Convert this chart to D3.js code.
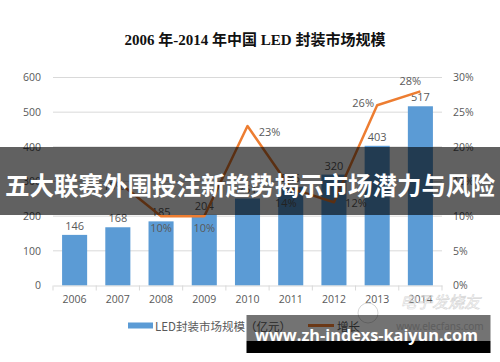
<!DOCTYPE html>
<html><head><meta charset="utf-8">
<script src="https://cdn.jsdelivr.net/npm/d3@7"></script>
<style>
html,body{margin:0;padding:0;background:#fff;}
svg{display:block;}
</style></head>
<body>
<svg id="c" width="500" height="362"></svg>
<script>
const years = ["2006","2007","2008","2009","2010","2011","2012","2013","2014"];
const marketSize = [146,168,185,204,251,285,320,403,517];
const growth = [null,15,10,10,23,14,12,26,28];
const leftTicks = [0,100,200,300,400,500,600];
const rightTicks = [0,5,10,15,20,25,30];
// label offsets (style, not data)
const growthLabelOffset = [null,[-4,4],[0,11],[0,11],[22,5],[-5,14],[22,0],[-14,-3],[-10,-11]];

const svg = d3.select("#c");
const m = {l:53, r:442, t:77.5, b:285.5};
const x = d3.scaleBand().domain(years).range([m.l,m.r]).paddingInner(0.42).paddingOuter(0.21);
const y = d3.scaleLinear().domain([0,600]).range([m.b,m.t]);
const y2 = d3.scaleLinear().domain([0,30]).range([m.b,m.t]);
const axisFont = "'Open Sans','Noto Sans',sans-serif";
const grey = "#595959";

// title
svg.append("text").attr("x",255).attr("y",45).attr("text-anchor","middle")
  .attr("font-family","'Liberation Serif','Noto Sans CJK SC',serif").attr("font-weight","bold")
  .attr("font-size",15).attr("fill","#111")
  .text("2006 年-2014 年中国 LED  封装市场规模");

// gridlines
svg.append("g").selectAll("line").data(leftTicks.slice(1)).join("line")
  .attr("x1",m.l).attr("x2",m.r).attr("y1",d=>y(d)).attr("y2",d=>y(d))
  .attr("stroke","#d9d9d9").attr("stroke-width",1);

// left axis
const gl = svg.append("g").attr("transform",`translate(${m.l},0)`)
  .call(d3.axisLeft(y).tickValues(leftTicks).tickSize(0).tickPadding(12));
gl.select(".domain").remove();
gl.selectAll("text").attr("font-family",axisFont).attr("font-size",10.5).attr("fill",grey);

// right axis
const gr = svg.append("g").attr("transform",`translate(${m.r},0)`)
  .call(d3.axisRight(y2).tickValues(rightTicks).tickSize(0).tickPadding(11).tickFormat(d=>d+"%"));
gr.select(".domain").remove();
gr.selectAll("text").attr("font-family",axisFont).attr("font-size",10.5).attr("fill",grey);

// bars
svg.append("g").selectAll("rect").data(marketSize).join("rect")
  .attr("x",(d,i)=>x(years[i])).attr("width",x.bandwidth())
  .attr("y",d=>y(d)).attr("height",d=>y(0)-y(d)).attr("fill","#5b9bd5");

// x axis
const step = x.step();
const gx = svg.append("g").attr("transform",`translate(0,${m.b})`)
  .call(d3.axisBottom(x).tickSize(0).tickPadding(10));
gx.select(".domain").attr("stroke","#d9d9d9");
gx.selectAll("text").attr("font-family",axisFont).attr("font-size",10.5).attr("fill",grey);
svg.append("g").selectAll("line").data(d3.range(years.length+1)).join("line")
  .attr("x1",i=>m.l+i*step).attr("x2",i=>m.l+i*step).attr("y1",m.b).attr("y2",m.b+5)
  .attr("stroke","#d9d9d9");

// bar labels
svg.append("g").selectAll("text").data(marketSize).join("text")
  .attr("x",(d,i)=>x(years[i])+x.bandwidth()/2).attr("y",d=>y(d)-5)
  .attr("text-anchor","middle").attr("font-family",axisFont).attr("font-size",11).attr("fill",grey)
  .text(d=>d);

// line
const pts = growth.map((g,i)=>({g,i})).filter(d=>d.g!==null);
const cx = i=>x(years[i])+x.bandwidth()/2;
svg.append("path").datum(pts)
  .attr("d",d3.line().x(d=>cx(d.i)).y(d=>y2(d.g)))
  .attr("fill","none").attr("stroke","#ed7d31").attr("stroke-width",2.5).attr("stroke-linejoin","round");

svg.append("g").selectAll("text").data(pts).join("text")
  .attr("x",d=>cx(d.i)+growthLabelOffset[d.i][0])
  .attr("y",d=>y2(d.g)+growthLabelOffset[d.i][1])
  .attr("dominant-baseline","central").attr("text-anchor","middle")
  .attr("font-family",axisFont).attr("font-size",11).attr("fill",grey)
  .text(d=>d.g+"%");

// legend
const lg = svg.append("g");
lg.append("rect").attr("x",128).attr("y",322.5).attr("width",25).attr("height",6).attr("fill","#5b9bd5");
lg.append("text").attr("x",155).attr("y",326).attr("dominant-baseline","central")
  .attr("font-family","'Noto Sans CJK SC',sans-serif").attr("font-size",11.5).attr("fill",grey)
  .text("LED封装市场规模（亿元）");
lg.append("line").attr("x1",308).attr("x2",334).attr("y1",325.5).attr("y2",325.5)
  .attr("stroke","#ed7d31").attr("stroke-width",3);
lg.append("text").attr("x",337).attr("y",326).attr("dominant-baseline","central")
  .attr("font-family","'Noto Sans CJK SC',sans-serif").attr("font-size",11.5).attr("fill",grey)
  .text("增长");

// faint source watermark
svg.append("text").attr("x",440).attr("y",308).attr("text-anchor","middle")
  .attr("font-family","'Noto Sans CJK SC',sans-serif").attr("font-size",16).attr("font-style","italic")
  .attr("fill","none").attr("stroke","#d6d6d6").attr("stroke-width",0.6).text("电子发烧友");
svg.append("circle").attr("cx",368).attr("cy",313).attr("r",10).attr("fill","none").attr("stroke","#d6d6d6").attr("stroke-width",1);
svg.append("text").attr("x",440).attr("y",326).attr("text-anchor","middle").attr("dominant-baseline","central")
  .attr("font-family","'Noto Sans',sans-serif").attr("font-size",10).attr("fill","#d0d0d0").text("www.elecfans.com");

// overlay banner
svg.append("rect").attr("x",0).attr("y",147).attr("width",500).attr("height",68).attr("fill","rgba(0,0,0,0.62)");
svg.append("text").attr("x",250).attr("y",184).attr("text-anchor","middle").attr("dominant-baseline","central")
  .attr("font-family","'Noto Sans CJK SC',sans-serif").attr("font-weight","bold").attr("font-size",24.5)
  .attr("fill","#fff").text("五大联赛外围投注新趋势揭示市场潜力与风险");

// site watermark
svg.append("rect").attr("x",246.5).attr("y",315).attr("width",244).attr("height",26).attr("fill","rgba(0,0,0,0.55)");
svg.append("rect").attr("x",246.5).attr("y",341).attr("width",244).attr("height",12).attr("fill","#000");
svg.append("text").attr("x",255).attr("y",340.5)
  .attr("font-family","'Open Sans','Noto Sans',sans-serif").attr("font-weight","bold").attr("font-size",16.5)
  .attr("fill","#fff").attr("textLength",223).attr("lengthAdjust","spacingAndGlyphs")
  .text("www.zh-indexs-kaiyun.com");
</script>
</body></html>
